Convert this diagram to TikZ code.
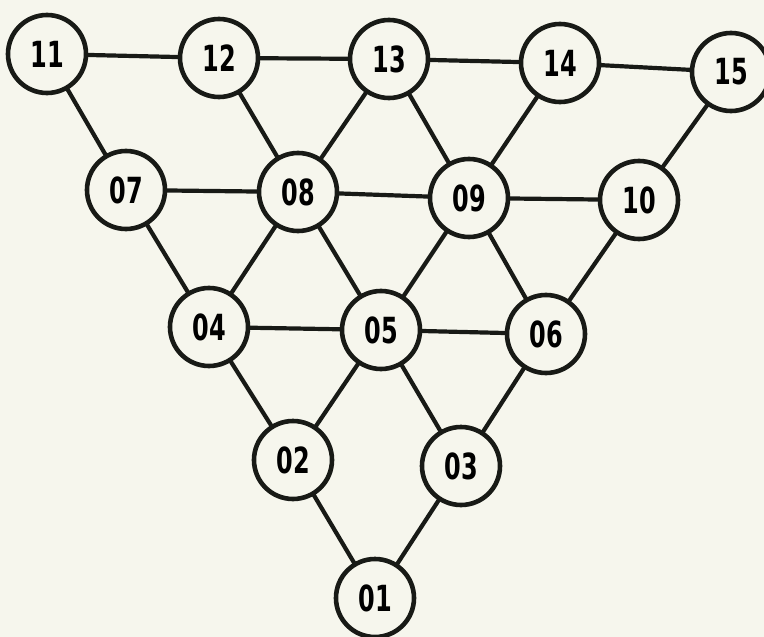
\documentclass[tikz,border=0pt]{standalone}
\usepackage{fontspec}
\usepackage{graphicx}
\newfontfamily\labfont{DejaVu Sans Condensed}
\definecolor{paper}{RGB}{246,246,237}
\definecolor{ink}{RGB}{24,26,22}
\tikzset{
  vtx/.style={circle, draw=ink, line width=4.6pt, fill=paper, minimum size=78pt, inner sep=0pt},
  edge/.style={draw=ink, line width=4.2pt},
}
\newcommand{\lab}[1]{\scalebox{0.74}[1]{\labfont\bfseries\fontsize{36}{36}\selectfont #1}}
\begin{document}
\begin{tikzpicture}[x=1pt,y=-1pt]
\clip (0,0) rectangle (764,637);
\fill[paper] (0,0) rectangle (764,637);
\useasboundingbox (0,0) rectangle (764,637);
\coordinate (p11) at (47,54);
\coordinate (p12) at (219,58);
\coordinate (p13) at (389,59);
\coordinate (p14) at (560,63);
\coordinate (p15) at (731,72);
\coordinate (p07) at (126,190);
\coordinate (p08) at (298,192);
\coordinate (p09) at (469,198);
\coordinate (p10) at (639,200);
\coordinate (p04) at (209,327);
\coordinate (p05) at (381,330);
\coordinate (p06) at (546,334);
\coordinate (p02) at (293,460);
\coordinate (p03) at (461,466);
\coordinate (p01) at (375,598);
\foreach \a/\b in {11/12,12/13,13/14,14/15,11/07,12/08,13/08,13/09,14/09,15/10,07/08,08/09,09/10,07/04,08/04,08/05,09/05,09/06,10/06,04/05,05/06,04/02,05/02,05/03,06/03,02/01,03/01}
  \draw[edge] (p\a) -- (p\b);
\foreach \n in {11,12,13,14,15,07,08,09,10,04,05,06,02,03,01}
  \node[vtx] (n\n) at (p\n) {\lab{\n}};
\end{tikzpicture}
\end{document}
